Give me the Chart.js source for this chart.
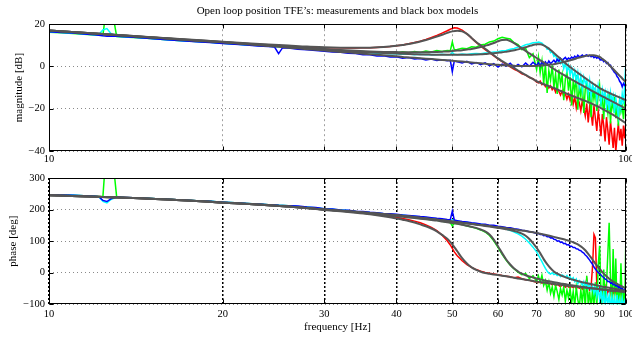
<!DOCTYPE html>
<html>
<head>
<meta charset="utf-8">
<script src="https://cdn.jsdelivr.net/npm/chart.js@4/dist/chart.umd.min.js"></script>
<style>
  body { margin: 0; background: #fff; }
  canvas { position: absolute; left: 0; }
</style>
</head>
<body>
<canvas id="mag" width="632" height="165" style="top:0;width:632px;height:165px"></canvas>
<canvas id="phase" width="632" height="174" style="top:165px;width:632px;height:174px"></canvas>
<script>
// tick labels on the frequency axis
const xTicks = [10, 20, 30, 40, 50, 60, 70, 80, 90, 100];

// measurement frequencies [Hz]
const freq = [10, 10.5, 11, 11.5, 12, 12.2, 12.4, 12.6, 12.8, 13.1, 13.5, 14,
  15, 16, 17, 18, 19, 20, 21, 22, 23, 24,
  24.6, 25, 25.4,
  26, 27, 28, 29, 30, 31, 32, 33, 34, 35, 36, 37, 38, 39, 40, 41, 42, 43, 44, 45, 46, 47, 48, 49,
  49.6, 50, 50.4,
  51, 52, 53, 54, 55, 56, 57, 58, 59, 60, 61, 62, 63, 64, 65, 66, 67, 68, 69, 70,
  70.5, 71, 71.5, 72, 72.5, 73, 73.5, 74, 74.5, 75, 75.5, 76, 76.5, 77, 77.5, 78, 78.5, 79, 79.5, 80,
  80.5, 81, 81.5, 82, 82.5, 83, 83.5, 84, 84.5, 85, 85.5, 86, 86.5, 87, 87.5, 88, 88.5, 89, 89.5, 90,
  90.5, 91, 91.5, 92, 92.5, 93, 93.5, 94, 94.5, 95, 95.5, 96, 96.5, 97, 97.5, 98, 98.5, 99, 99.5, 100];

// model frequencies [Hz]
const freqModel = [10, 12, 14, 16, 18, 20, 22, 24, 26, 28, 30, 32, 34, 36, 38,
  40, 41, 42, 43, 44, 45, 46, 47, 48, 49,
  50, 51, 52, 53, 54, 55, 56, 57, 58, 59,
  60, 61, 62, 63, 64, 65, 66, 67, 68, 69,
  70, 71, 72, 73, 74, 75, 76, 77, 78, 79,
  80, 81, 82, 83, 84, 85, 86, 87, 88, 89,
  90, 91, 92, 93, 94, 95, 96, 97, 98, 99,
  100];

// measured magnitude [dB]
const magRed = [16.6, 16.3, 16.0, 15.6, 15.2, 15.1, 15.0, 14.9, 14.7, 14.5, 14.3, 14.0,
  13.4, 12.9, 12.4, 12.0, 11.6, 11.2, 10.9, 10.6, 10.3, 10.0,
  9.8, 9.7, 9.6,
  9.5, 9.3, 9.1, 9.0, 8.9, 8.8, 8.8, 8.7, 8.7, 8.8, 8.8, 9.0, 9.2, 9.4, 9.8, 10.2, 10.7, 11.3, 12.0, 12.8, 13.7, 14.7, 15.8, 16.9,
  17.6, 18.0, 18.3,
  18.2, 17.2, 15.5, 13.4, 11.4, 9.6, 8.0, 6.5, 5.0, 3.6, 2.3, 1.0, -0.2, -1.4, -2.2, -3.5, -4.1, -5.3, -5.8, -7.4,
  -7.8, -6.9, -8.6, -8.0, -9.5, -8.4, -10.2, -9.1, -11.0, -10.0, -12.2, -10.5, -11.8, -13.5, -11.6, -14.2, -12.8, -15.5, -13.1, -16.0,
  -12.9, -17.8, -14.5, -19.5, -15.0, -17.2, -21.0, -16.0, -19.8, -23.5, -17.5, -26.5, -19.0, -22.0, -28.0, -18.5, -24.5, -30.5, -21.0, -26.0,
  -33.0, -22.5, -28.0, -35.5, -24.0, -30.0, -37.0, -26.0, -32.0, -38.5, -29.0, -40.5, -33.0, -27.0, -35.0, -29.5, -37.5, -28.0, -34.0, -25.5];
const magGreen = [16.2, 15.9, 15.6, 15.3, 14.9, 14.8, 14.7, 30, 30, 14.2, 14.0, 13.7,
  13.2, 12.7, 12.2, 11.8, 11.4, 11.0, 10.6, 10.3, 10.0, 9.7,
  9.5, 9.4, 9.3,
  9.0, 8.7, 8.5, 8.2, 7.9, 7.8, 7.4, 7.3, 7.0, 7.1, 6.7, 6.9, 6.5, 6.8, 6.4, 7.0, 6.5, 7.1, 6.6, 7.3, 6.9, 7.5, 7.1, 7.6,
  7.4, 11.6, 7.8,
  8.0, 8.6, 8.4, 9.3, 9.1, 10.2, 10.5, 11.6, 12.0, 13.1, 13.8, 13.4, 13.0, 11.2, 10.4, 8.0, 8.5, 4.2, 6.0, -1.5,
  4.5, -3.0, 2.5, -8.0, 1.0, -12.5, -2.0, -6.5, 0.5, -10.0, -3.5, -13.0, -1.5, -8.5, -4.0, -16.0, -6.0, -2.5, -11.5, -5.0,
  -18.5, -7.0, -12.0, -4.0, -20.5, -9.0, -14.0, -6.5, -22.0, -10.5, -8.0, -17.5, -12.0, -24.0, -9.5, -15.5, -11.0, -21.0, -13.5, -9.0,
  -19.0, -14.0, -25.0, -12.0, -17.5, -22.0, -13.0, -27.0, -16.0, -20.0, -14.5, -24.5, -18.0, -28.0, -15.5, -21.5, -19.0, -25.0, -17.0, -18.0];
const magCyan = [16.4, 16.1, 15.8, 15.4, 15.0, 15.1, 17.3, 17.9, 15.6, 14.3, 14.1, 13.8,
  13.2, 12.7, 12.2, 11.8, 11.4, 11.0, 10.6, 10.2, 9.9, 9.6,
  9.4, 9.3, 9.2,
  9.0, 8.6, 8.3, 8.0, 7.8, 7.4, 7.3, 7.0, 6.9, 6.6, 6.5, 6.3, 6.2, 6.0, 6.0, 5.8, 5.9, 5.6, 5.8, 5.5, 5.7, 5.5, 5.8, 5.6,
  5.7, 6.6, 5.8,
  5.6, 5.9, 5.7, 6.0, 6.1, 6.0, 6.4, 6.5, 6.9, 7.0, 7.4, 7.6, 8.2, 8.5, 9.2, 9.5, 10.3, 10.6, 11.2, 11.3,
  11.6, 11.4, 11.0, 10.1, 9.8, 8.2, 8.6, 6.5, 7.0, 4.8, 5.6, 2.4, 4.0, 1.5, 2.9, -1.0, 1.8, -2.5, 0.5, -4.0,
  -1.0, -5.5, -2.0, -7.0, -3.0, -9.5, -4.5, -11.2, -5.0, -8.0, -6.5, -13.0, -7.0, -14.3, -8.5, -11.0, -10.0, -16.0, -9.0, -13.0,
  -17.5, -11.0, -15.0, -12.0, -19.0, -13.5, -20.6, -12.5, -17.0, -14.0, -22.0, -15.0, -19.5, -23.8, -16.0, -20.0, -13.0, -18.0, -8.0, 3.0];
const magBlue = [16.4, 16.1, 15.8, 15.4, 15.0, 14.8, 14.5, 14.3, 14.4, 14.3, 14.1, 13.8,
  13.2, 12.7, 12.2, 11.7, 11.3, 10.9, 10.5, 10.1, 9.7, 9.4,
  9.2, 6.1, 8.9,
  8.7, 8.2, 7.9, 7.6, 7.2, 6.9, 6.7, 6.3, 6.1, 5.6, 5.5, 5.0, 5.1, 4.5, 4.6, 3.9, 4.2, 3.5, 3.8, 3.1, 3.5, 2.8, 3.2, 2.7,
  2.9, -2.5, 2.6,
  2.2, 1.6, 2.4, 1.2, 1.9, 0.8, 1.7, 0.4, 1.3, -0.3, 1.1, 0.2, 1.5, -0.4, 1.0, -0.2, 1.6, 0.1, 2.0, 0.4,
  1.8, 0.2, 2.3, 0.8, 2.2, 1.0, 2.6, 1.4, 2.1, 3.0, 1.8, 3.4, 2.4, 3.8, 2.9, 3.6, 4.3, 3.2, 4.0, 3.5,
  4.4, 3.8, 4.9, 4.1, 5.3, 4.6, 4.9, 5.4, 4.7, 5.2, 5.5, 4.8, 5.3, 4.6, 5.1, 4.2, 4.7, 3.9, 4.4, 3.6,
  3.0, 3.4, 2.2, 2.6, 1.4, 1.8, 0.4, 0.6, -1.0, -1.8, -2.8, -3.3, -4.8, -5.5, -7.0, -7.8, -9.6, -8.0, -9.0, -8.8];

// black box model magnitude [dB]
const magRedModel = [17.0, 15.6, 14.4, 13.4, 12.5, 11.7, 11.0, 10.4, 9.9, 9.4, 9.1, 8.9, 8.8, 8.9, 9.2,
  9.8, 10.2, 10.6, 11.2, 11.8, 12.5, 13.3, 14.1, 15.0, 15.9,
  16.6, 16.9, 16.6, 15.4, 13.5, 11.6, 10.0, 8.4, 6.8, 5.3,
  3.8, 2.5, 1.3, 0.2, -0.8, -1.9, -3.0, -4.0, -5.0, -6.0,
  -7.0, -7.7, -8.4, -9.0, -9.6, -10.2, -10.9, -11.5, -12.2, -12.9,
  -13.5, -14.1, -14.7, -15.2, -15.8, -16.3, -16.9, -17.5, -18.1, -18.7,
  -19.4, -20.1, -20.8, -21.5, -22.2, -22.9, -23.7, -24.5, -25.3, -26.1,
  -26.9];
const magGreenModel = [17.0, 15.6, 14.4, 13.3, 12.4, 11.6, 10.8, 10.1, 9.4, 8.8, 8.3, 7.8, 7.4, 7.1, 6.9,
  6.8, 6.7, 6.7, 6.7, 6.7, 6.7, 6.8, 6.9, 7.0, 7.1,
  7.3, 7.5, 7.7, 8.0, 8.3, 8.7, 9.2, 9.8, 10.4, 11.1,
  11.9, 12.5, 12.6, 12.0, 11.0, 9.8, 8.6, 7.4, 6.2, 5.1,
  4.0, 2.9, 1.9, 0.9, -0.2, -1.2, -2.2, -3.1, -4.0, -4.9,
  -5.8, -6.6, -7.4, -8.2, -9.0, -9.8, -10.5, -11.3, -12.0, -12.7,
  -13.4, -14.1, -14.8, -15.5, -16.1, -16.8, -17.4, -18.1, -18.7, -19.4,
  -20.0];
const magCyanModel = [17.0, 15.6, 14.3, 13.2, 12.3, 11.5, 10.7, 9.9, 9.2, 8.6, 8.0, 7.5, 7.0, 6.7, 6.4,
  6.1, 6.0, 5.9, 5.8, 5.7, 5.7, 5.6, 5.6, 5.5, 5.5,
  5.5, 5.5, 5.5, 5.6, 5.6, 5.7, 5.8, 5.9, 6.1, 6.3,
  6.5, 6.7, 7.0, 7.3, 7.7, 8.1, 8.6, 9.1, 9.7, 10.2,
  10.5, 10.5, 10.0, 9.0, 7.8, 6.4, 5.0, 3.6, 2.2, 0.9,
  -0.3, -1.4, -2.5, -3.5, -4.5, -5.5, -6.5, -7.5, -8.4, -9.3,
  -10.2, -10.9, -11.6, -12.2, -12.8, -13.4, -13.9, -14.4, -14.9, -15.5,
  -16.0];
const magBlueModel = [17.0, 15.6, 14.3, 13.2, 12.2, 11.4, 10.5, 9.7, 8.9, 8.2, 7.5, 6.9, 6.4, 5.8, 5.3,
  4.8, 4.5, 4.3, 4.1, 3.9, 3.7, 3.5, 3.3, 3.1, 2.9,
  2.7, 2.5, 2.3, 2.1, 1.9, 1.7, 1.5, 1.3, 1.1, 0.9,
  0.8, 0.6, 0.5, 0.4, 0.3, 0.2, 0.2, 0.2, 0.2, 0.2,
  0.3, 0.4, 0.5, 0.7, 0.9, 1.1, 1.4, 1.7, 2.1, 2.5,
  2.9, 3.3, 3.8, 4.2, 4.6, 4.9, 5.2, 5.3, 5.3, 5.0,
  4.5, 3.6, 2.6, 1.4, 0.1, -1.2, -2.5, -3.8, -5.0, -6.3,
  -7.5];

// measured phase [deg]
const phRed = [246, 245, 244, 243, 242, 241.5, 241, 240.5, 240, 239, 238, 237,
  234.5, 232.5, 230, 227.5, 225.5, 223, 221, 219, 217, 215,
  214, 213, 212.5,
  211, 209, 206.5, 204, 202, 199, 197, 194.5, 192.5, 190, 188, 185, 182, 179, 175.5, 172, 168, 163.5, 158, 151.5, 143.5, 133, 119, 101,
  88, 77, 66,
  54, 38, 26, 17, 10, 5, 1, -2, -4, -6, -9, -11, -13, -16, -14, -19, -22, -24, -27, -30,
  -31, -29, -33, -30, -35, -32, -37, -33, -38, -35, -41, -36, -40, -44, -38, -42, -46, -40, -45, -48,
  -43, -47, -42, -50, -45, -49, -44, -52, -46, -40, -20, -48, -55, -45, 20, 121, 110, -40, -62, -48,
  -70, -52, -60, -45, -75, -55, -62, -50, -80, -58, -66, -52, -85, -60, -68, -55, -72, -60, -70, -62];
const phGreen = [247, 246, 245, 243.5, 242, 241.5, 241, 420, 420, 240, 238.5, 237.5,
  235, 233, 230.5, 228, 226, 223.5, 221.5, 219.5, 217.5, 215.5,
  214.5, 213.5, 213,
  212, 209, 207.5, 204.5, 202, 200.5, 197.5, 196, 193, 192, 188.5, 187.5, 184, 183, 180.5, 179.5, 176, 175, 172, 170.5, 168, 166.5, 163, 161,
  158.5, 148, 157,
  155, 152.5, 148, 145, 140.5, 135.5, 129, 118, 101, 80, 58, 39, 24, 12, 2, -6, -3, -18, -10, -28,
  -10, -30, -8, -40, -25, -55, -30, -65, -45, -75, -40, -60, -85, -50, -70, -45, -90, -55, -80, -50,
  -95, -60, -105, -45, -85, -110, -55, -95, -40, -110, -10, -100, -60, -115, -50, -105, -30, -110, 20, 85,
  -60, -115, 10, -100, -40, 60, 158, -20, -115, 75, -90, 45, -110, -40, -115, 30, -100, -60, -110, 140];
const phCyan = [247, 246, 245, 243.5, 242, 240.5, 226, 221.5, 232, 239.5, 238.5, 237.5,
  235, 233, 230.5, 228, 226, 223.5, 221.5, 219.5, 217.5, 215.5,
  214.5, 213.5, 213,
  212, 210, 207.5, 205.5, 202.5, 201, 198.5, 197, 194, 193, 190.5, 189, 186.5, 185.5, 183.5, 182.5, 180, 178.5, 176.5, 175, 172.5, 171, 168.5, 167,
  166, 168, 165,
  163, 161, 159.5, 157, 155, 153.5, 151, 149, 147, 144, 141.5, 138, 134, 129, 123, 116, 106, 94, 81, 66,
  56, 45, 35, 24, 14, 5, -1, -4, 0, -6, -3, -9, -5, -12, -7, -10, -15, -9, -18, -13,
  -22, -16, -28, -20, -35, -25, -30, -40, -28, -45, -32, -50, -38, -55, -42, -65, -45, -75, -50, -85,
  -55, -95, -60, -110, -65, -100, -70, -115, -75, -105, -80, -115, -70, -110, -85, -115, -80, -110, -90, -105];
const phBlue = [247, 246, 245, 243.5, 242, 241, 229, 225.5, 234, 239.5, 238.5, 237.5,
  235, 233, 230.5, 228, 226, 223.5, 221.5, 219.5, 217.5, 215.5,
  214.5, 213.5, 213,
  212.5, 211, 208, 206.5, 203, 202, 199, 198, 195, 194, 191.5, 190, 187.5, 186.5, 185, 183, 181.5, 180, 178, 176.5, 174.5, 172.5, 171, 168.5,
  168, 195, 167,
  165, 162, 160.5, 158, 157, 154, 153.5, 150.5, 150, 147, 146, 143, 142.5, 139, 138, 134.5, 133, 129.5, 128, 124,
  125, 121, 122, 117, 118.5, 114, 115, 110, 111, 106, 105, 100, 101, 96, 97, 92, 93, 88, 89, 84,
  84, 80, 80, 76, 75, 71, 70, 65, 62, 56, 52, 46, 40, 33, 27, 18, 12, 6, 1, -3,
  -7, -12, -15, -20, -22, -28, -27, -33, -31, -38, -36, -42, -40, -47, -44, -55, -48, -60, -52, -50];

// black box model phase [deg]
const phRedModel = [245, 241, 236.5, 232, 227, 222, 218, 214, 209.5, 204.5, 199, 194.5, 190, 185, 179,
  172, 168, 164, 159, 153, 147, 140, 131, 120, 108,
  90, 68, 46, 29, 17, 9, 3, -1, -3.5, -5.5,
  -7.5, -9.5, -11.5, -13.5, -16, -18, -20, -22, -24, -26,
  -28, -29.5, -31, -32.5, -34, -35.5, -37, -38.5, -39.5, -41,
  -42, -43, -44, -45, -46, -47, -48, -49, -50, -51,
  -52, -53, -54, -55, -56, -57, -58, -58.5, -59.5, -60,
  -61];
const phGreenModel = [245, 241, 236.5, 232, 227, 222, 218, 214, 209.5, 205, 200, 196, 191.5, 187, 182.5,
  179, 177, 175, 173, 171, 169, 167, 165, 162.5, 160,
  157.5, 155, 152, 149, 145.5, 142, 137, 131, 121, 105,
  84, 62, 42, 26, 13, 4, -3, -8, -12, -15,
  -18, -21, -23.5, -26, -28, -30, -32, -34, -35.5, -37,
  -39, -40.5, -42, -43.5, -45, -46.5, -48, -49, -50, -51,
  -52, -53, -54, -55, -56, -57, -58, -58.5, -59.5, -60,
  -61];
const phCyanModel = [245, 241, 236.5, 232, 227, 222, 218, 214, 209.5, 205, 200, 196.5, 193, 189.5, 185.5,
  182, 180, 178, 176, 174, 172, 170, 168, 166, 164,
  162, 160, 158, 156, 154, 152, 150, 148, 146, 144,
  142, 140, 137.5, 135, 132, 128.5, 124, 117, 107, 94,
  79, 62, 43, 27, 14, 4, -3, -8, -12.5, -16,
  -19.5, -22.5, -25, -27.5, -30, -32, -34, -36, -38, -40,
  -42, -44, -45.5, -47, -48.5, -50, -51.5, -53, -54.5, -56,
  -57.5];
const phBlueModel = [245, 241, 236.5, 232, 227, 222, 218, 214, 209.5, 205, 200, 196.5, 193, 189.5, 186,
  182.5, 180.5, 178.5, 176.5, 174.5, 172.5, 170.5, 168.5, 166.5, 164.5,
  162.5, 160.5, 158.5, 156.5, 155, 153, 151.5, 150, 148, 146,
  144.5, 143, 141, 139, 137.5, 135.5, 134, 132, 130, 128,
  126, 123.5, 121, 118.5, 116, 113.5, 111, 108.5, 106, 103,
  100, 96.5, 92, 86.5, 80, 71, 60, 48, 35, 23,
  12, 2, -7, -15, -22, -28, -33, -38, -42, -46,
  -50];

const serif = "'Liberation Serif', 'Times New Roman', serif";
const tickFont = { family: serif, size: 10.5 };
const labelFont = { family: serif, size: 11 };

function pts(xs, ys) {
  return xs.map((x, i) => ({ x: x, y: ys[i] }));
}

function series(red, green, cyan, blue, redM, greenM, cyanM, blueM) {
  const model = (d) => ({ data: pts(freqModel, d), borderColor: '#555555', borderWidth: 2,
    pointRadius: 0, cubicInterpolationMode: 'monotone', order: 0 });
  const meas = (d, c, o) => ({ data: pts(freq, d), borderColor: c, borderWidth: 1.5,
    pointRadius: 0, tension: 0, order: o });
  return [model(redM), model(greenM), model(cyanM), model(blueM),
    meas(blue, '#0000ff', 1), meas(cyan, '#00ffff', 2), meas(green, '#00ff00', 3), meas(red, '#ff0000', 4)];
}

// box and inward tick marks like the original axes
const frame = {
  id: 'frame',
  afterDatasetsDraw(chart) {
    const { ctx, chartArea: a, scales } = chart;
    const L = Math.round(a.left) + 0.5, R = Math.round(a.right) - 0.5;
    const T = Math.round(a.top) + 0.5, B = Math.round(a.bottom) - 0.5;
    ctx.save();
    ctx.strokeStyle = '#000';
    ctx.lineWidth = 1;
    ctx.beginPath();
    scales.x.ticks.forEach(t => {
      const p = Math.round(scales.x.getPixelForValue(t.value)) + 0.5;
      ctx.moveTo(p, T); ctx.lineTo(p, T + 4);
      ctx.moveTo(p, B); ctx.lineTo(p, B - 4);
    });
    scales.y.ticks.forEach(t => {
      const p = Math.round(scales.y.getPixelForValue(t.value)) + 0.5;
      ctx.moveTo(L, p); ctx.lineTo(L + 4, p);
      ctx.moveTo(R, p); ctx.lineTo(R - 4, p);
    });
    ctx.stroke();
    ctx.strokeRect(L, T, R - L, B - T);
    ctx.restore();
  }
};

function xScale(allLabels, height, pad, gridColor, gridWidth, dash, title) {
  return {
    type: 'logarithmic', min: 10, max: 100,
    afterBuildTicks: s => { s.ticks = xTicks.map(v => ({ value: v })); },
    afterFit: s => { s.height = height; s.paddingLeft = 0; s.paddingRight = 0; },
    ticks: {
      autoSkip: false, maxRotation: 0, minRotation: 0, padding: pad, color: '#000', font: tickFont,
      callback: v => (allLabels || v === 10 || v === 100) ? String(v) : ''
    },
    grid: { color: gridColor, lineWidth: gridWidth, drawTicks: false },
    border: { display: false, dash: dash },
    title: title
  };
}

function yScale(min, max, step, title, titlePad) {
  return {
    min: min, max: max,
    afterFit: s => { s.width = 49; s.paddingTop = 0; s.paddingBottom = 0; },
    ticks: {
      stepSize: step, padding: 4, color: '#000', font: tickFont,
      callback: v => String(v).replace('-', '\u2212')
    },
    grid: { color: '#8a8a8a', lineWidth: 1, drawTicks: false },
    border: { display: false, dash: [1, 3] },
    title: { display: true, text: title, color: '#000', font: labelFont, padding: { top: titlePad, bottom: 0 } }
  };
}

const common = {
  responsive: false,
  animation: false,
  devicePixelRatio: 1,
  events: []
};

new Chart(document.getElementById('mag'), {
  type: 'line',
  data: { datasets: series(magRed, magGreen, magCyan, magBlue, magRedModel, magGreenModel, magCyanModel, magBlueModel) },
  options: Object.assign({}, common, {
    layout: { padding: { left: 0, right: 6, top: 0, bottom: 0 } },
    plugins: {
      legend: { display: false },
      tooltip: { enabled: false },
      title: {
        display: true, fullSize: false, color: '#000', font: { family: serif, size: 11, weight: 'normal' },
        text: 'Open loop position TFE\u2019s: measurements and black box models',
        padding: { top: 5, bottom: 6 }
      }
    },
    scales: {
      x: xScale(false, 14, 2, '#a0a0a0', 1, [2, 3], { display: false }),
      y: yScale(-40, 20, 20, 'magnitude [dB]', 12.6)
    }
  }),
  plugins: [frame]
});

new Chart(document.getElementById('phase'), {
  type: 'line',
  data: { datasets: series(phRed, phGreen, phCyan, phBlue, phRedModel, phGreenModel, phCyanModel, phBlueModel) },
  options: Object.assign({}, common, {
    layout: { padding: { left: 0, right: 6, top: 13, bottom: 0 } },
    plugins: { legend: { display: false }, tooltip: { enabled: false } },
    scales: {
      x: xScale(true, 34.7, 4, '#000000', 1.5, [2, 2],
        { display: true, text: 'frequency [Hz]', color: '#000', font: labelFont, padding: { top: 0, bottom: 5 } }),
      y: yScale(-100, 300, 100, 'phase [deg]', 6.7)
    }
  }),
  plugins: [frame]
});
</script>
</body>
</html>
